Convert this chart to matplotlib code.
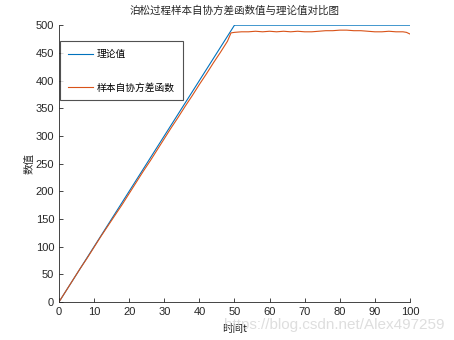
import matplotlib
matplotlib.use('Agg')
import matplotlib.pyplot as plt

plt.rcParams['font.family'] = ['Liberation Sans', 'Noto Sans CJK SC', 'DejaVu Sans']

# Valeurs
t_theory = [0, 50, 100]
theory = [0, 500, 500]

t_sample = [0, 2, 4, 6, 8, 10, 12, 14, 16, 18, 20, 22, 24, 26, 28, 30, 32, 34, 36, 38,
            40, 42, 44, 46, 48, 49, 50, 52, 54, 56, 58, 60, 62, 64, 66, 68, 70, 72, 74,
            76, 78, 80, 82, 84, 86, 88, 90, 92, 94, 96, 98, 99, 100]
sample = [0, 20, 40, 60, 79, 99, 119, 138, 157, 176, 196, 216, 236, 255, 275, 295, 315,
          334, 354, 373, 393, 412, 432, 451, 471, 486, 487, 488, 488, 489, 488, 489, 488,
          489, 488, 489, 488, 488, 489, 490, 490, 491, 491, 490, 490, 489, 488, 488, 489,
          488, 488, 487, 484]

labels = ['理论值', '样本自协方差函数']
cjk = ['Noto Sans CJK SC', 'DejaVu Sans']
axcol = '#262626'

fig = plt.figure(figsize=(4.54, 3.4), dpi=100)
ax = fig.add_axes([0.13, 0.112, 0.773, 0.814])

ax.plot(t_theory, theory, color='#0072BD', linewidth=0.8, label=labels[0])
ax.plot(t_sample, sample, color='#D95319', linewidth=0.8, label=labels[1])

ax.set_xlim(0, 100)
ax.set_ylim(0, 500)
ax.set_xticks(range(0, 101, 10))
ax.set_yticks(range(0, 501, 50))
ax.tick_params(direction='in', length=3, width=0.6, colors=axcol, labelsize=8)
for s in ['top', 'right']:
    ax.spines[s].set_visible(False)
for s in ['left', 'bottom']:
    ax.spines[s].set_color(axcol)
    ax.spines[s].set_linewidth(0.6)

ax.set_title('泊松过程样本自协方差函数值与理论值对比图', family=cjk, fontsize=7.6,
             color=axcol, pad=8)
ax.set_xlabel('时间t', family=cjk, fontsize=7.6, color=axcol, labelpad=5)
ax.set_ylabel('数值', family=cjk, fontsize=7.6, color=axcol, labelpad=1)

leg = ax.legend(loc='upper left', bbox_to_anchor=(0.0, 0.945), prop={'family': cjk, 'size': 7},
                frameon=True, fancybox=False, labelspacing=2.4, handlelength=2.6,
                handletextpad=0.4, borderpad=0.8, borderaxespad=0.1)
leg.get_frame().set_edgecolor(axcol)
leg.get_frame().set_linewidth(0.8)

fig.text(0.98, 0.045, 'https://blog.csdn.net/Alex497259', ha='right', va='center',
         fontsize=11, color='#d0d0d0', alpha=0.7)

fig.savefig('out.png', dpi=100)
